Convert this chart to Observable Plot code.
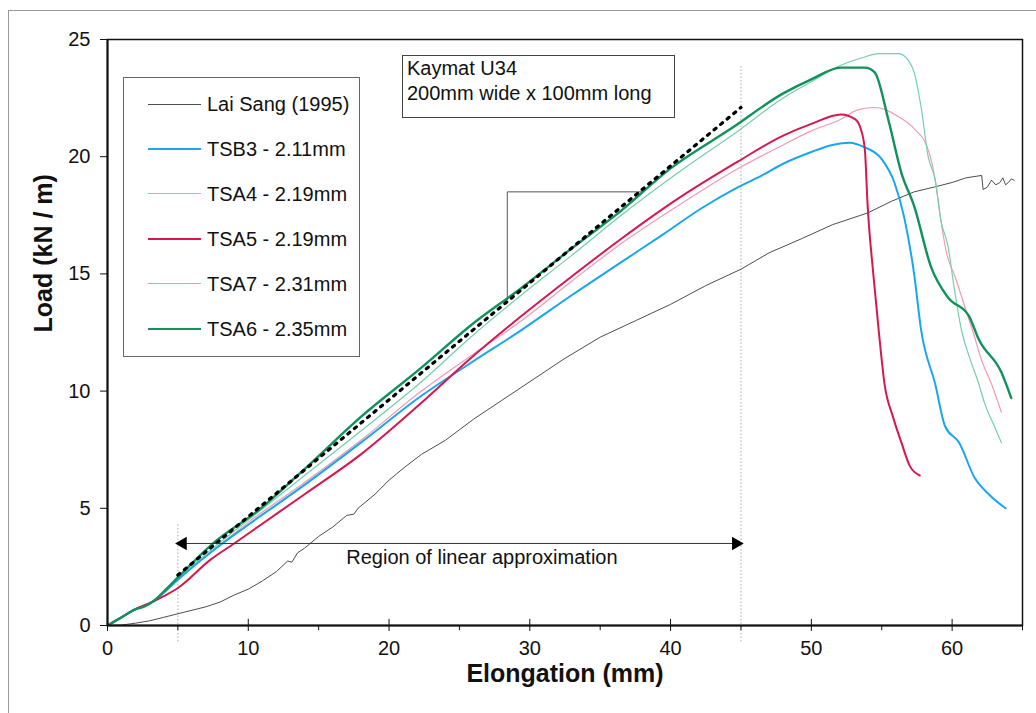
<!DOCTYPE html>
<html><head><meta charset="utf-8">
<script src="https://cdn.jsdelivr.net/npm/d3@7"></script>
<script src="https://cdn.jsdelivr.net/npm/@observablehq/plot@0.6"></script>
<style>
body{margin:0;background:#fff;font-family:"Liberation Sans",Arial,sans-serif;}
#wrap{position:relative;width:1036px;height:713px;overflow:hidden;background:#fff;}
#outer{position:absolute;left:8px;top:10px;width:1100px;height:800px;border-left:1px solid #999;border-top:1px solid #999;}
#chart{position:absolute;left:0;top:0;}
#legend{position:absolute;left:123px;top:77px;width:237px;height:280px;border:1px solid #666;background:#fff;padding-top:4px;box-sizing:border-box;}
.row{height:45px;position:relative;}
.sw{position:absolute;left:24px;top:22px;width:53px;}
.lab{position:absolute;left:83px;top:0;line-height:45px;font-size:20px;color:#111;white-space:nowrap;}
#note{position:absolute;left:402px;top:55px;width:273px;height:63px;border:1px solid #444;box-sizing:border-box;background:#fff;padding-left:4px;font-size:20px;line-height:25px;color:#111;white-space:nowrap;}
</style>
</head><body>
<div id="wrap"><div id="outer"></div><div id="chart"></div><div id="legend"></div><div id="note"></div></div>
<script>
// ---- data (elongation mm, load kN/m) ----
const laiSang = [[0,0],[1,0.02],[2,0.1],[3,0.2],[4,0.35],[5,0.5],[6,0.65],[7,0.8],[8,1.0],[9,1.3],[10,1.55],[11,1.9],[12,2.3],[12.8,2.75],[13.1,2.7],[13.5,3.1],[14,3.3],[15,3.8],[16,4.2],[17,4.7],[17.5,4.75],[17.8,5.0],[18,5.1],[19,5.6],[20,6.2],[21,6.7],[22.3,7.3],[24,7.9],[26,8.8],[28,9.6],[30,10.4],[32.5,11.4],[35,12.3],[37.5,13.0],[40,13.7],[42.5,14.5],[45,15.2],[47,15.9],[49.3,16.5],[51.5,17.1],[54,17.6],[55.7,18.1],[57.3,18.5],[58.7,18.7],[60,18.9],[61,19.1],[62.1,19.2],[62.2,18.6],[62.5,18.7],[62.8,19.0],[63.1,18.8],[63.4,18.9],[63.6,19.1],[63.8,18.8],[64.0,18.9],[64.2,19.05],[64.4,19.0]];
const tsb3 = [[0,0],[1,0.35],[2,0.7],[3,0.95],[4,1.4],[5,1.95],[7.5,3.2],[10,4.3],[14,6.0],[18,7.8],[22.3,9.8],[25.8,11.2],[29.4,12.6],[33,14.1],[36.5,15.5],[39.5,16.7],[42.2,17.8],[44.8,18.7],[46.5,19.2],[48,19.7],[50,20.2],[51.5,20.5],[52.7,20.6],[53.8,20.4],[55,19.9],[55.9,18.9],[56.6,17.4],[57.3,15.0],[57.8,12.6],[58.8,10.3],[59.5,8.5],[60.5,7.8],[61.6,6.3],[62.6,5.6],[63.8,5.0]];
const tsa4 = [[0,0],[1,0.35],[2,0.7],[3,0.95],[4,1.4],[5,1.95],[7.5,3.2],[10,4.4],[14,6.1],[18,7.9],[22.3,10.0],[25.8,11.5],[29.4,13.0],[33,14.7],[36.5,16.3],[40.5,17.9],[44.8,19.5],[48,20.5],[50,21.1],[52.1,21.6],[53.3,22.0],[54.5,22.1],[55.3,22.0],[56.2,21.7],[57.3,21.2],[58.3,20.3],[58.8,19.0],[59.2,17.3],[59.6,15.9],[60.2,14.9],[60.9,13.6],[61.5,12.5],[62.1,11.3],[62.8,10.3],[63.5,9.1]];
const tsa5 = [[0,0],[1,0.35],[2,0.7],[3,0.95],[4,1.25],[5,1.6],[7.3,2.8],[9,3.5],[10.9,4.3],[14,5.6],[18,7.3],[22.3,9.5],[25.8,11.4],[29.4,13.2],[33,14.9],[36.5,16.5],[40.5,18.2],[44.8,19.8],[48,20.9],[50,21.4],[52.1,21.8],[53.1,21.6],[53.5,21.2],[53.8,20.3],[54.0,17.9],[54.4,15.0],[54.8,12.5],[55.2,10.3],[55.8,8.9],[56.4,7.8],[57.0,6.8],[57.7,6.4]];
const tsa7 = [[0,0],[1,0.35],[2,0.7],[3,0.95],[4,1.4],[5,2.0],[7.5,3.3],[10,4.5],[14,6.4],[18,8.3],[22.3,10.4],[25.8,12.3],[29.4,14.1],[33,15.8],[36.5,17.5],[40.5,19.3],[44.8,21.1],[48,22.5],[50,23.2],[52.1,23.9],[53.5,24.2],[54.8,24.4],[56.2,24.4],[56.9,24.1],[57.3,23.6],[57.8,22.1],[58.3,20.0],[58.8,19.0],[59.2,17.3],[59.7,16.2],[60.2,14.2],[60.7,12.5],[61.2,11.5],[61.9,10.3],[62.3,9.5],[63.0,8.5],[63.5,7.8]];
const tsa6 = [[0,0],[1,0.35],[2,0.7],[2.6,0.8],[3.3,1.05],[4,1.45],[5,2.05],[7.3,3.4],[10.9,5.0],[14.4,6.9],[18,8.9],[22.3,11.0],[25.8,12.8],[29.4,14.4],[33,16.1],[36.5,17.7],[40,19.5],[44.3,21.2],[48,22.7],[50,23.3],[52.1,23.8],[53.8,23.8],[54.5,23.6],[55.5,21.5],[56.4,19.3],[57.3,17.9],[58.5,15.3],[59.7,14.0],[61.2,13.2],[61.9,12.2],[63.5,10.8],[64.2,9.7]];
const seriesNames = ["Lai Sang (1995)","TSB3 - 2.11mm","TSA4 - 2.19mm","TSA5 - 2.19mm","TSA7 - 2.31mm","TSA6 - 2.35mm"];
const linearFit = [[5,2.15],[45,22.1]];
const regionBounds = [5,45];
const regionTop = [4.3,23.9];
const regionArrowY = 3.5;
const regionLabel = "Region of linear approximation";
const calloutPath = [[28.4,13.9],[28.4,18.5],[38.0,18.5]];
const noteLines = ["Kaymat U34","200mm wide x 100mm long"];
const xMajor = [0,10,20,30,40,50,60];
const xMinor = [5,15,25,35,45,55,65];
const yTicks = [0,5,10,15,20,25];
const xTitle = "Elongation (mm)";
const yTitle = "Load (kN / m)";

// ---- styles ----
const seriesData = [laiSang, tsb3, tsa4, tsa5, tsa7, tsa6];
const styles = [
  {color:"#4d4d4d", w:1},
  {color:"#1aa6ee", w:2},
  {color:"#f29ab2", w:1.2},
  {color:"#d6184f", w:2},
  {color:"#74d0a8", w:1.2},
  {color:"#10925a", w:2.4}
];
const drawOrder = [0,2,4,1,3,5];

const marks = [];
// dotted region guides
marks.push(Plot.ruleX(regionBounds.map((x,i)=>({x, top: regionTop[i]})), {x:"x", y1:-0.7, y2:"top", stroke:"#aaa", strokeWidth:1, strokeDasharray:"1.5,2"}));
// callout
marks.push(Plot.line(calloutPath, {x:d=>d[0], y:d=>d[1], stroke:"#555", strokeWidth:1}));
// series
for (const i of drawOrder) {
  marks.push(Plot.line(seriesData[i], {x:d=>d[0], y:d=>d[1], stroke:styles[i].color, strokeWidth:styles[i].w, strokeLinejoin:"round", curve: i===0 ? "linear" : "monotone-x"}));
}
// linear approximation (dotted)
marks.push(Plot.line(linearFit, {x:d=>d[0], y:d=>d[1], stroke:"#000", strokeWidth:3.2, strokeDasharray:"2.5,6"}));
// region arrow
marks.push(Plot.ruleY([regionArrowY], {x1:regionBounds[0], x2:regionBounds[1], stroke:"#333", strokeWidth:1}));
marks.push(Plot.dot([regionBounds[0]], {x:d=>d, y:regionArrowY, symbol:"triangle", r:5, fill:"#000", stroke:"none", rotate:-90, dx:5}));
marks.push(Plot.dot([regionBounds[1]], {x:d=>d, y:regionArrowY, symbol:"triangle", r:5, fill:"#000", stroke:"none", rotate:90, dx:-5}));
marks.push(Plot.text([regionLabel], {x:(regionBounds[0]+regionBounds[1])/2 + 1.6, y:regionArrowY - 0.6, text:d=>d, fontSize:20, fill:"#111"}));
// axes
marks.push(Plot.frame({stroke:"#111", strokeWidth:1.5}));
marks.push(Plot.ruleX([0], {stroke:"#111", strokeWidth:2}));
marks.push(Plot.ruleY([0], {stroke:"#111", strokeWidth:2}));
marks.push(Plot.axisX({ticks:xMajor, tickSize:6, tickPadding:9, fontSize:20, label:null, stroke:"#111"}));
marks.push(Plot.ruleX(xMajor, {x:d=>d, y1:0, y2:0.26, stroke:"#111", strokeWidth:1}));
marks.push(Plot.ruleX(xMinor, {x:d=>d, y1:0, y2:-0.22, stroke:"#111", strokeWidth:1}));
marks.push(Plot.axisY({ticks:yTicks, tickSize:7, tickPadding:10, fontSize:20, label:null, stroke:"#111"}));
marks.push(Plot.text([xTitle], {frameAnchor:"bottom", dy:56, text:d=>d, fontSize:25, fontWeight:"bold", fill:"#111"}));
marks.push(Plot.text([yTitle], {frameAnchor:"left", dx:-64, rotate:-90, text:d=>d, fontSize:25, fontWeight:"bold", fill:"#111"}));

const chart = Plot.plot({
  width:1036, height:713,
  marginLeft:107, marginRight:14, marginTop:39, marginBottom:88,
  x:{domain:[0,65]},
  y:{domain:[0,25]},
  style:{fontFamily:"'Liberation Sans', Arial, sans-serif", fontSize:"20px", color:"#111", background:"transparent", overflow:"visible"},
  marks
});
document.getElementById("chart").appendChild(chart);

// legend
const legend = document.getElementById("legend");
seriesNames.forEach((name,i)=>{
  const row = document.createElement("div"); row.className="row";
  const sw = document.createElement("div"); sw.className="sw";
  sw.style.borderTop = styles[i].w + "px solid " + styles[i].color;
  sw.style.marginTop = (-styles[i].w/2) + "px";
  const lab = document.createElement("div"); lab.className="lab"; lab.textContent = name;
  row.appendChild(sw); row.appendChild(lab); legend.appendChild(row);
});
// note box
const note = document.getElementById("note");
noteLines.forEach(t=>{const d=document.createElement("div"); d.textContent=t; note.appendChild(d);});
</script>
</body></html>
